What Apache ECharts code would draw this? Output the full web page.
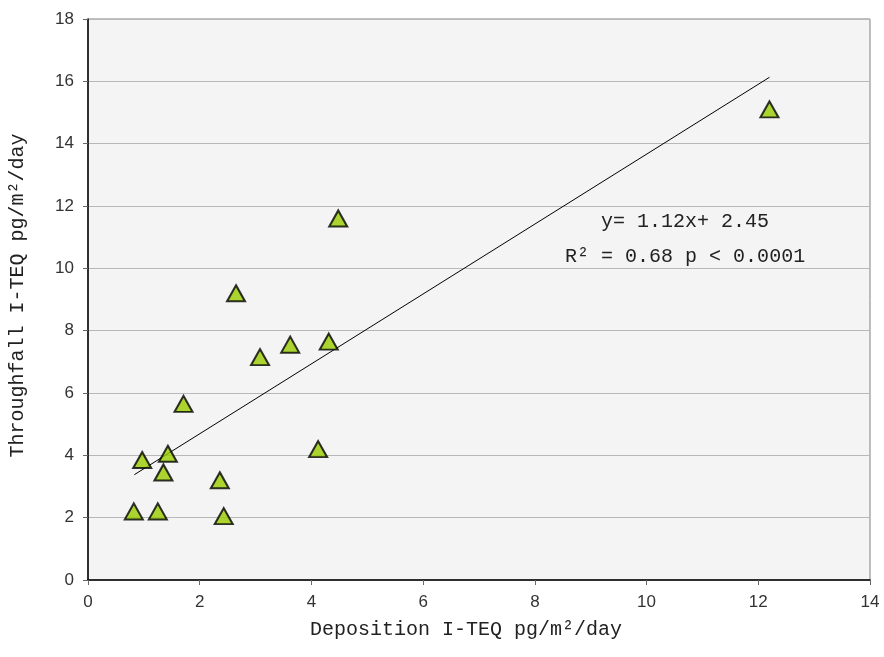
<!DOCTYPE html>
<html>
<head>
<meta charset="utf-8">
<script src="https://cdn.jsdelivr.net/npm/echarts@6/dist/echarts.min.js"></script>
<style>
html,body{margin:0;padding:0;background:#fff;}
#c{width:884px;height:657px;}
</style>
</head>
<body>
<div id="c"></div>
<script>
// Data
const depositionX = [0.82, 1.25, 0.97, 1.43, 1.35, 1.71, 2.36, 2.43, 2.65, 3.08, 3.62, 4.31, 4.12, 4.48, 12.2];
const throughfallY = [2.2, 2.2, 3.85, 4.05, 3.45, 5.65, 3.2, 2.05, 9.2, 7.15, 7.55, 7.65, 4.2, 11.6, 15.1];
const trendX = [0.83, 12.2];
const trendY = [3.38, 16.13];
const xTicks = [0, 2, 4, 6, 8, 10, 12, 14];
const yTicks = [0, 2, 4, 6, 8, 10, 12, 14, 16, 18];
const xTitle = 'Deposition I-TEQ pg/m²/day';
const yTitle = 'Throughfall I-TEQ pg/m²/day';
const eqLine1 = 'y= 1.12x+ 2.45';
const eqLine2 = 'R² = 0.68 p < 0.0001';

const points = depositionX.map((x, i) => [x, throughfallY[i]]);
const trend = trendX.map((x, i) => [x, trendY[i]]);

const chart = echarts.init(document.getElementById('c'), null, {renderer: 'canvas'});
const tickFont = {fontFamily: 'Liberation Sans', fontSize: 17, color: '#333'};
const titleFont = {fontFamily: 'Liberation Mono', fontSize: 20, color: '#222'};

chart.setOption({
  animation: false,
  backgroundColor: '#ffffff',
  grid: {left: 87, right: 14, top: 19, bottom: 77, show: true, backgroundColor: '#f4f4f4', borderColor: '#808080', borderWidth: 1},
  xAxis: {
    type: 'value', min: xTicks[0], max: xTicks[xTicks.length - 1], interval: 2,
    axisLine: {show: true, lineStyle: {color: '#000', width: 1.5}},
    axisTick: {show: true, inside: false, length: 5, lineStyle: {color: '#666'}},
    axisLabel: Object.assign({margin: 14}, tickFont),
    splitLine: {show: false},
    name: xTitle, nameLocation: 'middle', nameGap: 40,
    nameTextStyle: Object.assign({padding: [0, 26, 0, 0]}, titleFont)
  },
  yAxis: {
    type: 'value', min: yTicks[0], max: yTicks[yTicks.length - 1], interval: 2,
    axisLine: {show: true, lineStyle: {color: '#000', width: 1.5}},
    axisTick: {show: true, inside: false, length: 5, lineStyle: {color: '#666'}},
    axisLabel: Object.assign({margin: 14}, tickFont),
    splitLine: {show: true, lineStyle: {color: '#b8b8b8', width: 1}},
    name: yTitle, nameLocation: 'middle', nameGap: 60, nameRotate: 90,
    nameTextStyle: Object.assign({padding: [0, 0, 0, 8]}, titleFont)
  },
  series: [
    {
      type: 'line', data: trend, symbol: 'none', silent: true,
      lineStyle: {color: '#000', width: 1}, z: 2
    },
    {
      type: 'scatter', data: points, symbol: 'triangle', symbolSize: [18, 16],
      itemStyle: {color: '#99cc00', borderColor: '#000', borderWidth: 2}, z: 3
    }
  ]
});

// place equation text in data space near the trend
const p1 = chart.convertToPixel({gridIndex: 0}, [10.69, 11.5]);
const p2 = chart.convertToPixel({gridIndex: 0}, [10.69, 10.38]);
chart.setOption({
  graphic: [
    {type: 'text', x: p1[0], y: p1[1], style: {text: eqLine1, align: 'center', verticalAlign: 'middle', font: '20px "Liberation Mono"', fill: '#222'}},
    {type: 'text', x: p2[0], y: p2[1], style: {text: eqLine2, align: 'center', verticalAlign: 'middle', font: '20px "Liberation Mono"', fill: '#222'}}
  ]
});
</script>
</body>
</html>
